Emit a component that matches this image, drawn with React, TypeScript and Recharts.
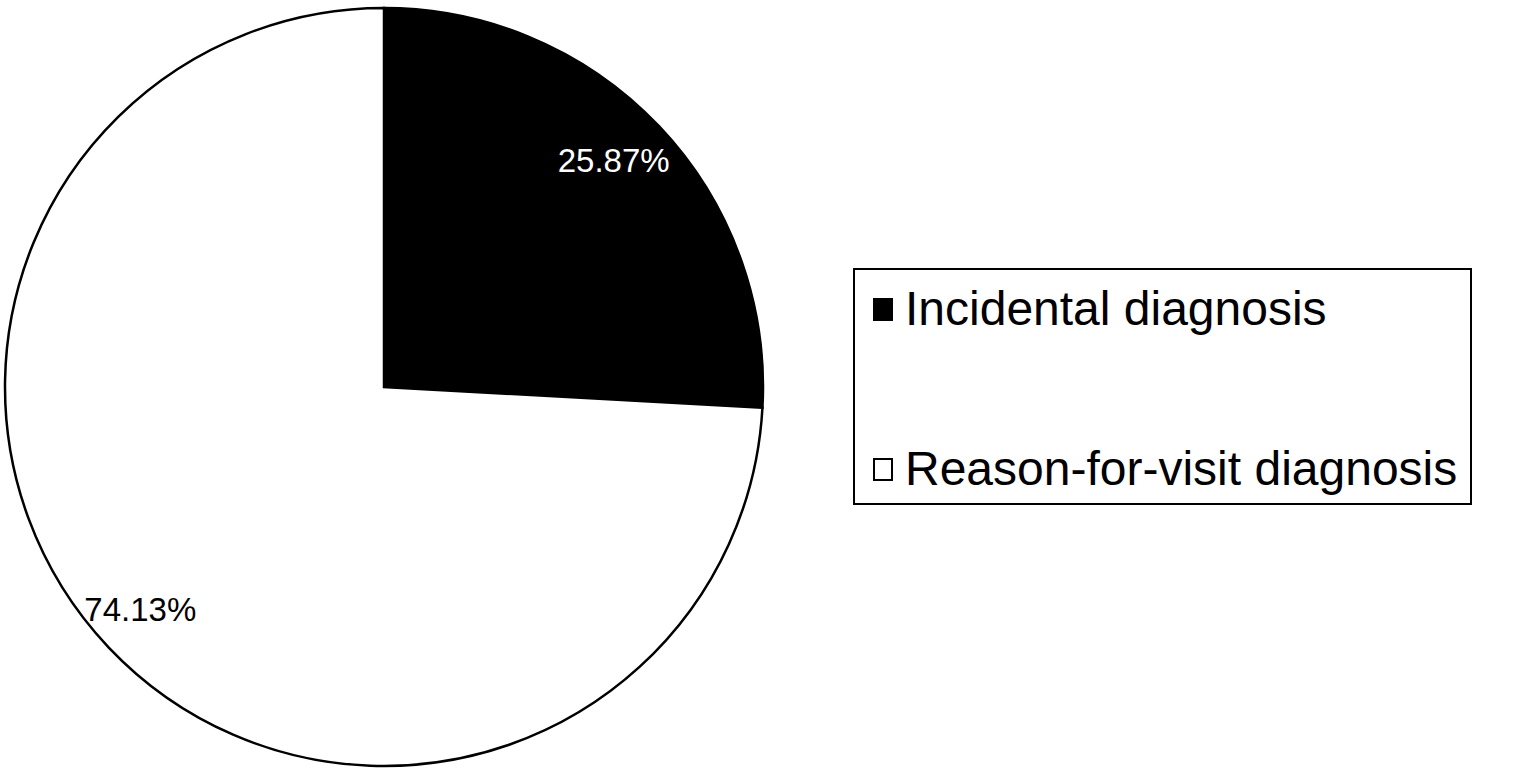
import { PieChart, Pie, Cell, Legend } from 'recharts';

const categories = ['Incidental diagnosis', 'Reason-for-visit diagnosis'];
const shares = [25.87, 74.13];
const fills = ['#000000', '#ffffff'];
const labelColors = ['#ffffff', '#000000'];

const data = categories.map((name, i) => ({ name, value: shares[i] }));

const RADIAN = Math.PI / 180;
const font = '"Liberation Sans", Arial, Helvetica, sans-serif';

const renderLabel = (props: any) => {
  const { cx, cy, midAngle, outerRadius, index, value } = props;
  const r = outerRadius * 0.86;
  const x = cx + r * Math.cos(-midAngle * RADIAN) - 7;
  const y = cy + r * Math.sin(-midAngle * RADIAN) - 2;
  return (
    <text
      x={x}
      y={y}
      fill={labelColors[index]}
      textAnchor="middle"
      dominantBaseline="central"
      fontSize={33}
      fontFamily={font}
    >
      {`${value.toFixed(2)}%`}
    </text>
  );
};

const renderLegend = () => (
  <div
    style={{
      width: 619,
      height: 237,
      border: '2px solid #000',
      boxSizing: 'border-box',
      position: 'relative',
      fontFamily: font,
      fontSize: 48,
      color: '#000',
      background: '#fff',
    }}
  >
    {categories.map((name, i) => (
      <div
        key={name}
        style={{
          position: 'absolute',
          left: 18,
          top: i === 0 ? 11 : 171,
          display: 'flex',
          alignItems: 'center',
          lineHeight: '56px',
          whiteSpace: 'nowrap',
        }}
      >
        <span
          style={{
            display: 'inline-block',
            width: 20,
            height: 23,
            background: fills[i],
            border: '2px solid #000',
            boxSizing: 'border-box',
            marginRight: 12,
          }}
        />
        {name}
      </div>
    ))}
  </div>
);

export default function App() {
  return (
    <div style={{ position: 'absolute', left: 0, top: 0, width: 1514, height: 772, background: '#fff' }}>
      <PieChart width={1514} height={772} margin={{ top: 0, right: 0, bottom: 0, left: 0 }}>
        <Pie
          data={data}
          dataKey="value"
          nameKey="name"
          cx={384}
          cy={387}
          outerRadius={379}
          startAngle={90}
          endAngle={-270}
          stroke="#000"
          strokeWidth={2.5}
          label={renderLabel}
          labelLine={false}
          isAnimationActive={false}
        >
          {data.map((d, i) => (
            <Cell key={d.name} fill={fills[i]} />
          ))}
        </Pie>
        <Legend
          content={renderLegend}
          wrapperStyle={{ position: 'absolute', left: 853, top: 268, width: 619, height: 237 }}
        />
      </PieChart>
    </div>
  );
}
